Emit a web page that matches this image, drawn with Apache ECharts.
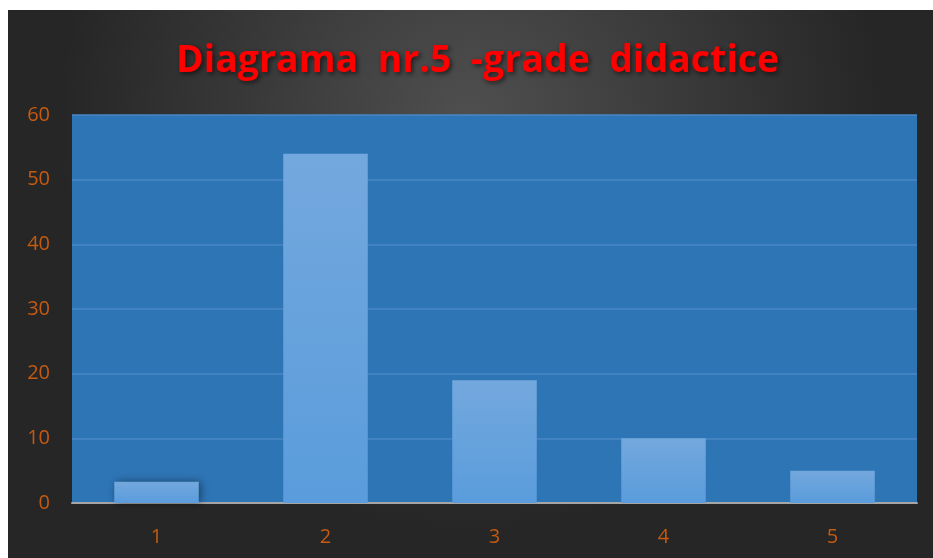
<!DOCTYPE html>
<html>
<head>
<meta charset="utf-8">
<script src="https://cdn.jsdelivr.net/npm/echarts@6/dist/echarts.min.js"></script>
<style>
html, body { margin: 0; padding: 0; background: #fff; }
#chart { position: absolute; left: 8px; top: 10px; width: 925px; height: 548px; }
</style>
</head>
<body>
<div id="chart"></div>
<script>
// date
var categorii = ["1", "2", "3", "4", "5"];
var valori = [3.3, 54, 19, 10, 5];
var titlu = "Diagrama  nr.5  -grade  didactice";

var myChart = echarts.init(document.getElementById("chart"));

var option = {
  backgroundColor: {
    type: "radial",
    x: 0.5, y: 0.2, r: 0.75,
    colorStops: [
      { offset: 0, color: "#4f4f4f" },
      { offset: 1, color: "#262626" }
    ]
  },
  title: {
    text: titlu,
    left: 163,
    top: 27,
    textStyle: {
      color: "#ff0000",
      fontFamily: "Open Sans",
      fontWeight: "bold",
      fontSize: 37.5,
      textShadowColor: "rgba(0,0,0,0.6)",
      textShadowBlur: 5,
      textShadowOffsetX: 2,
      textShadowOffsetY: 2
    }
  },
  grid: {
    left: 64,
    right: 16,
    top: 105,
    bottom: 55,
    show: true,
    backgroundColor: "#2e75b6",
    borderWidth: 0
  },
  xAxis: {
    type: "category",
    data: categorii,
    axisLine: { lineStyle: { color: "#a6a6a6", width: 2 } },
    axisTick: { show: false },
    axisLabel: {
      color: "#c55a11",
      fontSize: 20,
      fontFamily: "Open Sans",
      margin: 24
    }
  },
  yAxis: {
    type: "value",
    min: 0,
    max: 60,
    interval: 10,
    axisLine: { show: false },
    axisTick: { show: false },
    axisLabel: {
      color: "#c55a11",
      fontSize: 20,
      fontFamily: "Open Sans",
      margin: 22
    },
    splitLine: { lineStyle: { color: "#4a87c4", width: 1.5 } }
  },
  series: [
    {
      type: "bar",
      data: valori,
      barWidth: "50%",
      itemStyle: {
        color: {
          type: "linear", x: 0, y: 0, x2: 0, y2: 1,
          colorStops: [
            { offset: 0, color: "#73a8dd" },
            { offset: 1, color: "#5a9cdc" }
          ]
        },
        shadowColor: "rgba(0,0,0,0.45)",
        shadowBlur: 8,
        shadowOffsetX: 2,
        shadowOffsetY: 0
      }
    }
  ]
};

myChart.setOption(option);
window.addEventListener("resize", function () {
  myChart.resize();
});
</script>
</body>
</html>
